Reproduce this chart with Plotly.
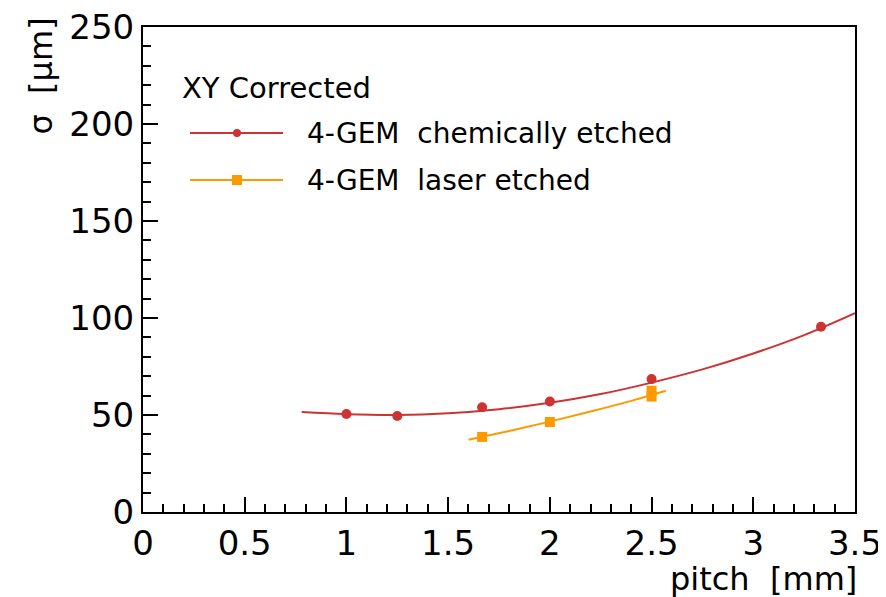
import plotly.graph_objects as go

# data
chem_x = [1.0, 1.25, 1.667, 2.0, 2.5, 3.333]
chem_y = [50.5, 49.5, 54.0, 57.0, 68.5, 95.5]
laser_x = [1.667, 2.0, 2.5, 2.5]
laser_y = [38.7, 46.4, 62.5, 59.5]
# fit curves
chem_fit_x = [0.78, 1.0, 1.25, 1.5, 1.75, 2.0, 2.25, 2.5, 2.75, 3.0, 3.25, 3.5]
chem_fit_y = [51.5, 50.4, 50.0, 50.9, 53.0, 56.3, 60.8, 66.7, 73.5, 81.7, 91.2, 102.5]
laser_fit_x = [1.6, 1.8, 2.0, 2.2, 2.4, 2.57]
laser_fit_y = [37.2, 41.8, 46.6, 51.8, 57.3, 62.5]

RED = "#cc3333"
ORANGE = "#ff9900"
FONT = "DejaVu Sans"

fig = go.Figure()
fig.add_trace(go.Scatter(x=chem_fit_x, y=chem_fit_y, mode="lines", line=dict(color=RED, width=2, shape="spline"), showlegend=False))
fig.add_trace(go.Scatter(x=laser_fit_x, y=laser_fit_y, mode="lines", line=dict(color=ORANGE, width=2, shape="spline"), showlegend=False))
fig.add_trace(go.Scatter(x=chem_x, y=chem_y, mode="markers", marker=dict(color=RED, size=10, symbol="circle"), showlegend=False))
fig.add_trace(go.Scatter(x=laser_x, y=laser_y, mode="markers", marker=dict(color=ORANGE, size=10, symbol="square"), showlegend=False))

# page has an 8px body margin: figure starts at (8, 8)
OFF = 8
W, H = 886 - OFF, 597 - OFF
PL, PR, PT, PB = 143, 855, 27, 512  # plot area in page pixels
L, T = PL - OFF, PT - OFF
R = W - (PR - OFF)
B = H - (PB - OFF)
pw, ph = PR - PL, PB - PT

def px(x):
    return (x - PL) / pw

def py(y):
    return (PB - y) / ph

shapes = []
annotations = []
# manual legend
for yy, col, sym, label in [(133, RED, "circle", "4-GEM  chemically etched"), (180, ORANGE, "square", "4-GEM  laser etched")]:
    shapes.append(dict(type="line", xref="paper", yref="paper", x0=px(190), x1=px(283), y0=py(yy), y1=py(yy), line=dict(color=col, width=2)))
    if sym == "circle":
        shapes.append(dict(type="circle", xref="paper", yref="paper", x0=px(233), x1=px(241), y0=py(yy + 4), y1=py(yy - 4), fillcolor=col, line=dict(color=col, width=0)))
    else:
        shapes.append(dict(type="rect", xref="paper", yref="paper", x0=px(232), x1=px(242), y0=py(yy + 5), y1=py(yy - 5), fillcolor=col, line=dict(color=col, width=0)))
    annotations.append(dict(xref="paper", yref="paper", x=px(305), y=py(yy), text=label, showarrow=False, xanchor="left", yanchor="middle", font=dict(family=FONT, size=28, color="black")))

annotations.append(dict(xref="paper", yref="paper", x=px(180), y=py(88), text="XY Corrected", showarrow=False, xanchor="left", yanchor="middle", font=dict(family=FONT, size=29, color="black")))
annotations.append(dict(xref="paper", yref="paper", x=px(859), y=py(579), text="pitch  [mm]", showarrow=False, xanchor="right", yanchor="middle", font=dict(family=FONT, size=32, color="black")))
annotations.append(dict(xref="paper", yref="paper", x=px(40), y=py(16), text="σ  [μm]", showarrow=False, xanchor="center", yanchor="top", textangle=-90, font=dict(family=FONT, size=32, color="black")))

fig.update_layout(
    width=W, height=H,
    margin=dict(l=L, r=R, t=T, b=B, autoexpand=False),
    paper_bgcolor="white", plot_bgcolor="white",
    shapes=shapes, annotations=annotations,
    showlegend=False,
    font=dict(family=FONT, size=34, color="black"),
)
fig.update_xaxes(range=[0, 3.5], tickvals=[0, 0.5, 1, 1.5, 2, 2.5, 3, 3.5], ticktext=["0", "0.5", "1", "1.5", "2", "2.5", "3", "3.5"],
                 ticks="inside", ticklen=15, tickwidth=2, tickcolor="black", ticklabeloverflow="allow",
                 minor=dict(ticks="inside", ticklen=8, tickwidth=2, tickcolor="black", dtick=0.1, showgrid=False),
                 showgrid=False, zeroline=False, showline=True, linecolor="black", linewidth=2, mirror=True,
                 tickfont=dict(family=FONT, size=34, color="black"))
fig.update_yaxes(range=[0, 250], tickvals=[0, 50, 100, 150, 200, 250],
                 ticks="inside", ticklen=15, tickwidth=2, tickcolor="black", ticklabeloverflow="allow",
                 minor=dict(ticks="inside", ticklen=8, tickwidth=2, tickcolor="black", dtick=10, showgrid=False),
                 showgrid=False, zeroline=False, showline=True, linecolor="black", linewidth=2, mirror=True,
                 tickfont=dict(family=FONT, size=34, color="black"))

fig.write_html("out.html")
